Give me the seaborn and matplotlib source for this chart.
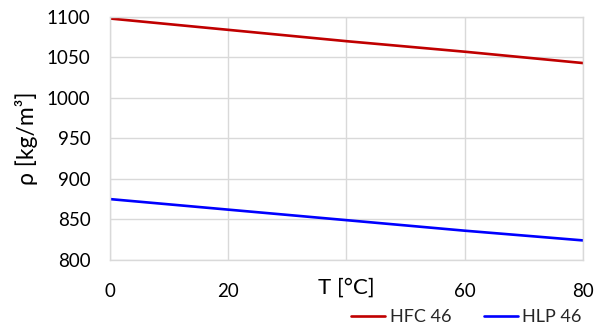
import matplotlib
matplotlib.use("Agg")
import matplotlib.pyplot as plt
import seaborn as sns
import pandas as pd
from matplotlib.lines import Line2D

# Data
temperature = [0, 20, 40, 60, 80]
hfc46 = [1098, 1084, 1070, 1057, 1043]
hlp46 = [875, 862, 849, 836, 824]
series_names = ["HFC 46", "HLP 46"]
x_tick_labels = ["0", "20", "", "60", "80"]
y_ticks = [800, 850, 900, 950, 1000, 1050, 1100]

df = pd.DataFrame({
    "T": temperature * 2,
    "rho": hfc46 + hlp46,
    "fluid": [series_names[0]] * len(temperature) + [series_names[1]] * len(temperature),
})

sns.set_theme(style="white")
plt.rcParams["font.family"] = ["Lato", "DejaVu Sans"]

fig = plt.figure(figsize=(6.04, 3.31), dpi=100)
ax = fig.add_axes([0.182, 0.215, 0.783, 0.734])

sns.lineplot(data=df, x="T", y="rho", hue="fluid",
             palette={"HFC 46": "#c00000", "HLP 46": "#0000ff"},
             linewidth=1.9, ax=ax, legend=False)

ax.set_xlim(0, 80)
ax.set_ylim(800, 1100)
ax.set_xticks(temperature)
ax.set_xticklabels(x_tick_labels)
ax.set_yticks(y_ticks)
ax.grid(True, color="#d9d9d9", linewidth=1.0)
ax.set_axisbelow(True)
for s in ax.spines.values():
    s.set_color("#d9d9d9")
    s.set_linewidth(1.0)
ax.tick_params(axis="both", length=0, labelsize=13.5, colors="black")
ax.tick_params(axis="y", pad=14)
ax.tick_params(axis="x", pad=17)

ax.set_ylabel("ρ [kg/m³]", fontsize=16.5, color="black", labelpad=6)
ax.set_xlabel("T [°C]", fontsize=16, color="black")
ax.xaxis.set_label_coords(0.5, -0.072)

handles = [Line2D([], [], color="#c00000", lw=1.9), Line2D([], [], color="#0000ff", lw=1.9)]
fig.legend(handles, series_names, loc="center", bbox_to_anchor=(0.772, 0.042),
           ncol=2, frameon=False, fontsize=13, handlelength=1.9,
           handletextpad=0.25, columnspacing=1.8, borderaxespad=0)

fig.text(0.0, -0.022, "Fig. 6 – Density temperature dependence of HFC and HLP",
         fontsize=11, fontweight="bold", family="Liberation Serif",
         va="top", ha="left", color="black")

fig.savefig("out.png", dpi=100)
